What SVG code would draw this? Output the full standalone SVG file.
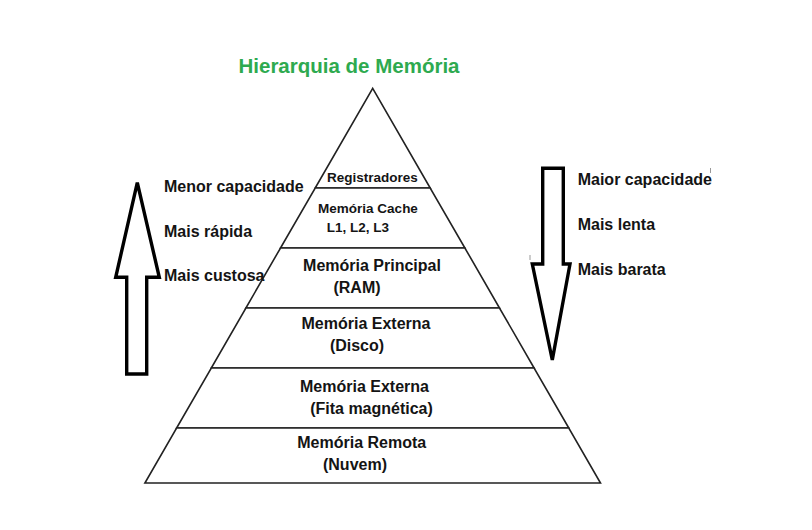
<svg xmlns="http://www.w3.org/2000/svg" width="812" height="530" viewBox="0 0 812 530">
  <style>
    .lvl { fill: #ffffff; stroke: #222222; stroke-width: 1.6; stroke-linejoin: miter; }
    .t { font-family: "Liberation Sans", Arial, sans-serif; font-weight: bold; fill: #141414; }
    .lbl { font-size: 16px; }
    .small { font-size: 13.5px; }
    .c { text-anchor: middle; }
    .arrow { fill: #ffffff; stroke: #000000; stroke-width: 3.4; stroke-linejoin: miter; }
    .title { font-family: "Liberation Sans", Arial, sans-serif; font-weight: bold; font-size: 20.5px; fill: #2eaa4f; text-anchor: middle; }
  </style>
  <rect x="0" y="0" width="812" height="530" fill="#ffffff"/>

  <text class="title" x="349" y="73">Hierarquia de Memória</text>

  <g id="registradores">
    <polygon class="lvl" points="372.7,88.3 430.2,188 315.2,188"/>
    <text class="t small c" x="372.5" y="181.5">Registradores</text>
  </g>
  <g id="cache">
    <polygon class="lvl" points="315.2,188 430.2,188 464.9,248 280.5,248"/>
    <text class="t small c" x="368" y="213">Memória Cache</text>
    <text class="t small c" x="358" y="232">L1, L2, L3</text>
  </g>
  <g id="principal">
    <polygon class="lvl" points="280.5,248 464.9,248 499.5,308 245.9,308"/>
    <text class="t lbl c" x="372" y="271">Memória Principal</text>
    <text class="t lbl c" x="357" y="293">(RAM)</text>
  </g>
  <g id="disco">
    <polygon class="lvl" points="245.9,308 499.5,308 534.1,368 211.3,368"/>
    <text class="t lbl c" x="366" y="329">Memória Externa</text>
    <text class="t lbl c" x="357" y="351">(Disco)</text>
  </g>
  <g id="fita">
    <polygon class="lvl" points="211.3,368 534.1,368 568.8,428 176.6,428"/>
    <text class="t lbl c" x="364.5" y="391.5">Memória Externa</text>
    <text class="t lbl c" x="371.5" y="413.5">(Fita magnética)</text>
  </g>
  <g id="remota">
    <polygon class="lvl" points="176.6,428 568.8,428 600.5,483 144.9,483"/>
    <text class="t lbl c" x="361.7" y="448">Memória Remota</text>
    <text class="t lbl c" x="355" y="470">(Nuvem)</text>
  </g>

  <g id="seta-cima">
    <polygon class="arrow" points="137.3,182.7 159.3,277.3 146.7,277.3 146.7,374 126.7,374 126.7,277.3 115.7,277.3"/>
  </g>
  <g id="rotulos-esquerda">
    <text class="t lbl" x="164" y="192">Menor capacidade</text>
    <text class="t lbl" x="164" y="236.5">Mais rápida</text>
    <text class="t lbl" x="164" y="280.5">Mais custosa</text>
  </g>

  <g id="seta-baixo">
    <polygon class="arrow" points="542.7,168.3 563.3,168.3 563.3,264 570,264 552.3,360 532.3,264 542.7,264"/>
  </g>
  <g id="rotulos-direita">
    <text class="t lbl" x="577.7" y="185">Maior capacidade</text>
    <text class="t lbl" x="577.7" y="230">Mais lenta</text>
    <text class="t lbl" x="577.7" y="274.5">Mais barata</text>
  </g>

  <line x1="710.5" y1="168" x2="710.5" y2="173" stroke="#999999" stroke-width="1"/>
  <line x1="530" y1="255" x2="530" y2="260" stroke="#999999" stroke-width="1"/>
</svg>
